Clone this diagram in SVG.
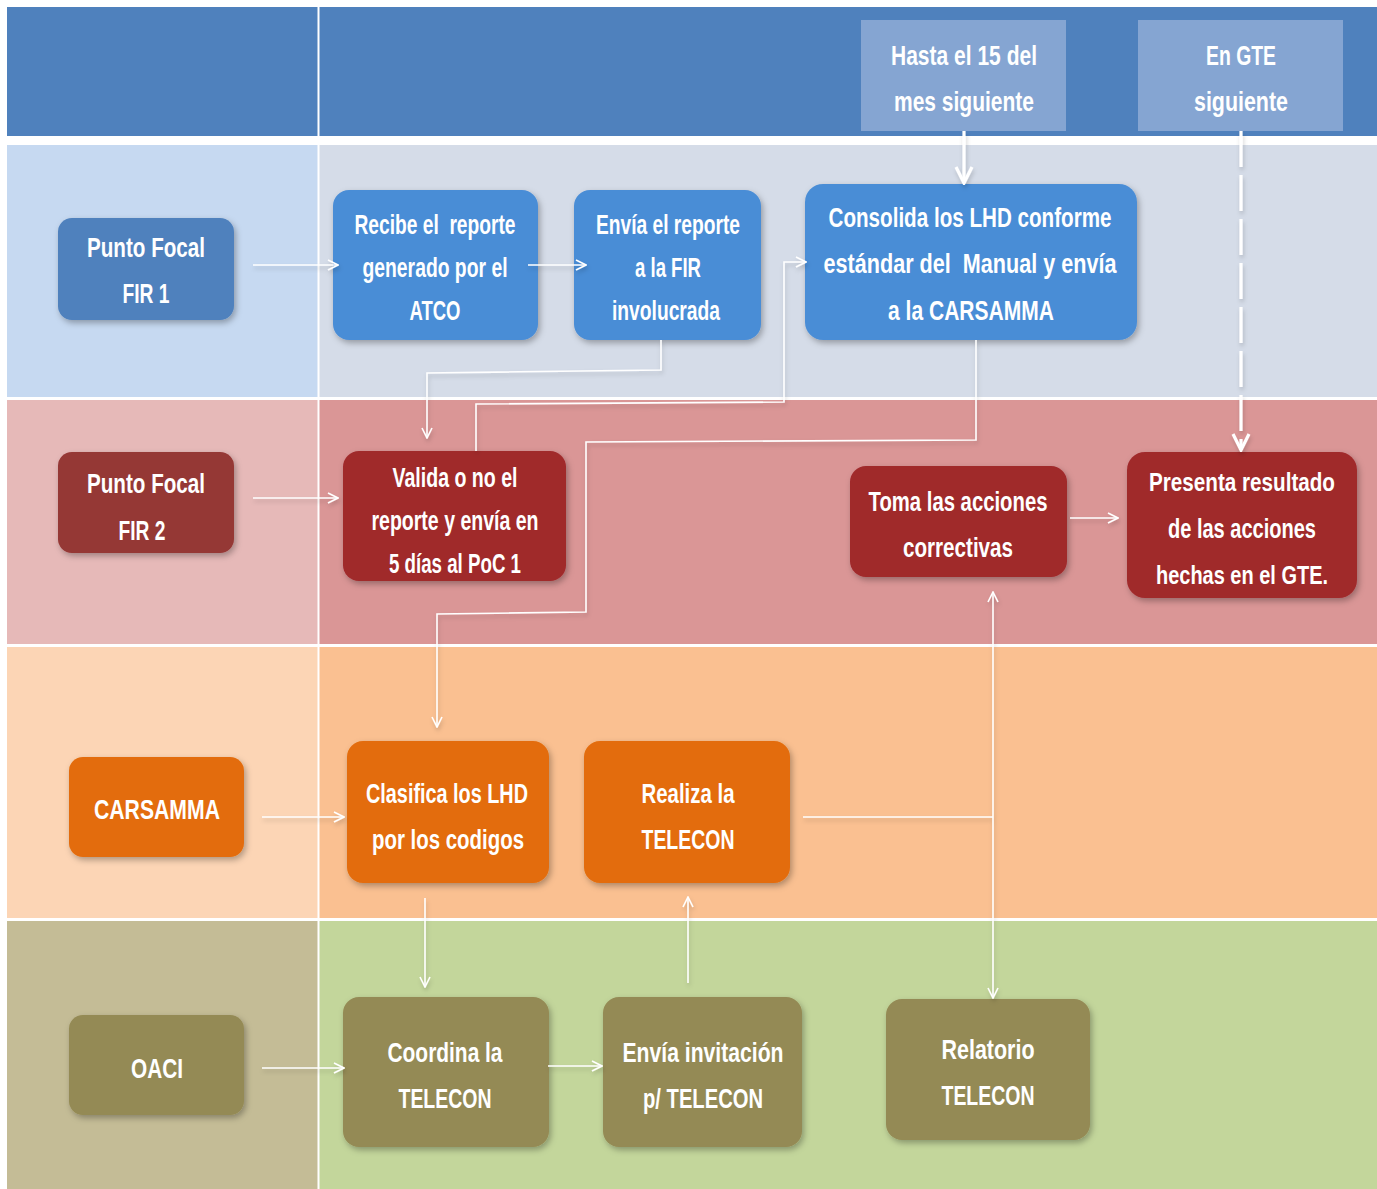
<svg xmlns="http://www.w3.org/2000/svg" width="1377" height="1189" viewBox="0 0 1377 1189">
<defs>
  <filter id="sh" x="-10%" y="-10%" width="130%" height="140%">
    <feDropShadow dx="2" dy="3" stdDeviation="3" flood-color="#000" flood-opacity="0.3"/>
  </filter>
  <filter id="lsh" x="-10%" y="-10%" width="130%" height="130%">
    <feDropShadow dx="1" dy="3" stdDeviation="2" flood-color="#000" flood-opacity="0.18"/>
  </filter>
  <marker id="ar" viewBox="0 0 12 12" refX="11" refY="6" markerWidth="12" markerHeight="12" markerUnits="userSpaceOnUse" orient="auto-start-reverse">
    <path d="M1,1 L11,6 L1,11" fill="none" stroke="#fff" stroke-width="1.6"/>
  </marker>
  <marker id="arb" viewBox="0 0 20 20" refX="18" refY="10" markerWidth="20" markerHeight="20" markerUnits="userSpaceOnUse" orient="auto">
    <path d="M2,2 L18,10 L2,18" fill="none" stroke="#fff" stroke-width="3.2"/>
  </marker>
  <style>
    .t { font-family: "Liberation Sans Narrow", "Liberation Sans", Arial, sans-serif; font-weight: bold; font-size: 28px; fill: #fff; text-anchor: middle; }
    .s { font-size: 25px; }
    .c { fill: none; stroke: #fff; stroke-width: 1.6; }
    .cb { fill: none; stroke: #fff; stroke-width: 3.2; }
    .box { filter: url(#sh); }
    .sep { stroke: #fff; }
  </style>
</defs>

<rect x="0" y="0" width="1377" height="1189" fill="#fff"/>

<!-- lanes -->
<g id="lanes">
  <rect x="7" y="7" width="1370" height="129" fill="#4F81BD"/>
  <rect x="7" y="145" width="311" height="252" fill="#C6D9F1"/>
  <rect x="318" y="145" width="1059" height="252" fill="#D5DCE8"/>
  <rect x="7" y="400" width="311" height="244" fill="#E6B9B8"/>
  <rect x="318" y="400" width="1059" height="244" fill="#DA9696"/>
  <rect x="7" y="647" width="311" height="271" fill="#FCD5B5"/>
  <rect x="318" y="647" width="1059" height="271" fill="#FAC091"/>
  <rect x="7" y="921" width="311" height="268" fill="#C4BC96"/>
  <rect x="318" y="921" width="1059" height="268" fill="#C3D69B"/>
  <line class="sep" x1="318.5" y1="7" x2="318.5" y2="1189" stroke-width="2"/>
</g>

<!-- header notes -->
<g id="hasta">
  <rect x="861" y="20" width="205" height="111" fill="#85A5D2"/>
  <text class="t" x="964" y="65" textLength="146" lengthAdjust="spacingAndGlyphs">Hasta el 15 del</text>
  <text class="t" x="964" y="111" textLength="140" lengthAdjust="spacingAndGlyphs">mes siguiente</text>
</g>
<g id="engte">
  <rect x="1138" y="20" width="205" height="111" fill="#85A5D2"/>
  <text class="t" x="1241" y="65" textLength="70" lengthAdjust="spacingAndGlyphs">En GTE</text>
  <text class="t" x="1241" y="111" textLength="94" lengthAdjust="spacingAndGlyphs">siguiente</text>
</g>

<!-- lane 1 -->
<g id="pf1">
  <rect class="box" x="58" y="218" width="176" height="102" rx="14" fill="#4F81BD"/>
  <text class="t" x="146" y="257" textLength="118" lengthAdjust="spacingAndGlyphs">Punto Focal</text>
  <text class="t" x="146" y="303" textLength="47" lengthAdjust="spacingAndGlyphs">FIR 1</text>
</g>
<g id="recibe">
  <rect class="box" x="333" y="190" width="205" height="150" rx="16" fill="#4A8DD6"/>
  <text class="t" x="435" y="234" textLength="161" lengthAdjust="spacingAndGlyphs" xml:space="preserve">Recibe el  reporte</text>
  <text class="t" x="435" y="277" textLength="145" lengthAdjust="spacingAndGlyphs">generado por el</text>
  <text class="t" x="435" y="320" textLength="51" lengthAdjust="spacingAndGlyphs">ATCO</text>
</g>
<g id="envia">
  <rect class="box" x="574" y="190" width="187" height="150" rx="16" fill="#4A8DD6"/>
  <text class="t" x="668" y="234" textLength="144" lengthAdjust="spacingAndGlyphs">Envía el reporte</text>
  <text class="t" x="668" y="277" textLength="66" lengthAdjust="spacingAndGlyphs">a la FIR</text>
  <text class="t" x="666" y="320" textLength="108" lengthAdjust="spacingAndGlyphs">involucrada</text>
</g>
<g id="consolida">
  <rect class="box" x="805" y="184" width="332" height="156" rx="18" fill="#4A8DD6"/>
  <text class="t" x="970" y="227" textLength="283" lengthAdjust="spacingAndGlyphs">Consolida los LHD conforme</text>
  <text class="t" x="970" y="273" textLength="293" lengthAdjust="spacingAndGlyphs" xml:space="preserve">estándar del  Manual y envía</text>
  <text class="t" x="971" y="320" textLength="166" lengthAdjust="spacingAndGlyphs">a la CARSAMMA</text>
</g>

<!-- lane 2 -->
<g id="pf2">
  <rect class="box" x="58" y="452" width="176" height="101" rx="14" fill="#953735"/>
  <text class="t" x="146" y="493" textLength="118" lengthAdjust="spacingAndGlyphs">Punto Focal</text>
  <text class="t" x="142" y="540" textLength="47" lengthAdjust="spacingAndGlyphs">FIR 2</text>
</g>
<g id="valida">
  <rect class="box" x="343" y="451" width="223" height="130" rx="16" fill="#A0292C"/>
  <text class="t" x="455" y="487" textLength="125" lengthAdjust="spacingAndGlyphs">Valida o no el</text>
  <text class="t" x="455" y="530" textLength="167" lengthAdjust="spacingAndGlyphs">reporte y envía en</text>
  <text class="t" x="455" y="573" textLength="132" lengthAdjust="spacingAndGlyphs">5 días al PoC 1</text>
</g>
<g id="toma">
  <rect class="box" x="850" y="466" width="217" height="111" rx="16" fill="#A0292C"/>
  <text class="t" x="958" y="511" textLength="179" lengthAdjust="spacingAndGlyphs">Toma las acciones</text>
  <text class="t" x="958" y="557" textLength="110" lengthAdjust="spacingAndGlyphs">correctivas</text>
</g>
<g id="presenta">
  <rect class="box" x="1127" y="452" width="230" height="146" rx="18" fill="#A0292C"/>
  <text class="t s" x="1242" y="491" textLength="186" lengthAdjust="spacingAndGlyphs">Presenta resultado</text>
  <text class="t" x="1242" y="538" textLength="148" lengthAdjust="spacingAndGlyphs">de las acciones</text>
  <text class="t s" x="1242" y="584" textLength="172" lengthAdjust="spacingAndGlyphs">hechas en el GTE.</text>
</g>

<!-- lane 3 -->
<g id="carsamma">
  <rect class="box" x="69" y="757" width="175" height="100" rx="14" fill="#E36C0A"/>
  <text class="t" x="157" y="819" textLength="126" lengthAdjust="spacingAndGlyphs">CARSAMMA</text>
</g>
<g id="clasifica">
  <rect class="box" x="347" y="741" width="202" height="142" rx="16" fill="#E36C0A"/>
  <text class="t" x="447" y="803" textLength="162" lengthAdjust="spacingAndGlyphs">Clasifica los LHD</text>
  <text class="t" x="448" y="849" textLength="152" lengthAdjust="spacingAndGlyphs">por los codigos</text>
</g>
<g id="realiza">
  <rect class="box" x="584" y="741" width="206" height="142" rx="16" fill="#E36C0A"/>
  <text class="t" x="688" y="803" textLength="93" lengthAdjust="spacingAndGlyphs">Realiza la</text>
  <text class="t" x="688" y="849" textLength="93" lengthAdjust="spacingAndGlyphs">TELECON</text>
</g>

<!-- lane 4 -->
<g id="oaci">
  <rect class="box" x="69" y="1015" width="175" height="100" rx="14" fill="#948A54"/>
  <text class="t" x="157" y="1078" textLength="52" lengthAdjust="spacingAndGlyphs">OACI</text>
</g>
<g id="coordina">
  <rect class="box" x="343" y="997" width="206" height="150" rx="16" fill="#948A54"/>
  <text class="t" x="445" y="1062" textLength="115" lengthAdjust="spacingAndGlyphs">Coordina la</text>
  <text class="t" x="445" y="1108" textLength="93" lengthAdjust="spacingAndGlyphs">TELECON</text>
</g>
<g id="invitacion">
  <rect class="box" x="603" y="997" width="199" height="150" rx="16" fill="#948A54"/>
  <text class="t" x="703" y="1062" textLength="161" lengthAdjust="spacingAndGlyphs">Envía invitación</text>
  <text class="t" x="703" y="1108" textLength="120" lengthAdjust="spacingAndGlyphs">p/ TELECON</text>
</g>
<g id="relatorio">
  <rect class="box" x="886" y="999" width="204" height="141" rx="16" fill="#948A54"/>
  <text class="t" x="988" y="1059" textLength="93" lengthAdjust="spacingAndGlyphs">Relatorio</text>
  <text class="t" x="988" y="1105" textLength="93" lengthAdjust="spacingAndGlyphs">TELECON</text>
</g>

<!-- connectors -->
<g id="connectors" filter="url(#lsh)">
  <polyline class="c" points="253,265 338,265" marker-end="url(#ar)"/>
  <polyline class="c" points="528,265 586,265" marker-end="url(#ar)"/>
  <polyline class="c" points="661,340 661,370 427,373 427,438" marker-end="url(#ar)"/>
  <polyline class="c" points="476,451 476,404 784,402 784,262 806,262" marker-end="url(#ar)"/>
  <polyline class="c" points="976,340 976,440 586,442 586,612 437,614 437,727" marker-end="url(#ar)"/>
  <polyline class="c" points="253,498 338,498" marker-end="url(#ar)"/>
  <polyline class="c" points="1070,518 1118,518" marker-end="url(#ar)"/>
  <polyline class="cb" points="964,131 964,183" marker-end="url(#arb)"/>
  <polyline class="cb" points="1241,131 1241,450" stroke-dasharray="36 8" marker-end="url(#arb)"/>
  <polyline class="c" points="262,817 344,817" marker-end="url(#ar)"/>
  <polyline class="c" points="425,898 425,987" marker-end="url(#ar)"/>
  <polyline class="c" points="548,1066 602,1066" marker-end="url(#ar)"/>
  <polyline class="c" points="688,983 688,897" marker-end="url(#ar)"/>
  <polyline class="c" points="803,817 993,817"/>
  <polyline class="c" points="993,592 993,998" marker-start="url(#ar)" marker-end="url(#ar)"/>
  <polyline class="c" points="262,1068 344,1068" marker-end="url(#ar)"/>
</g>
</svg>
